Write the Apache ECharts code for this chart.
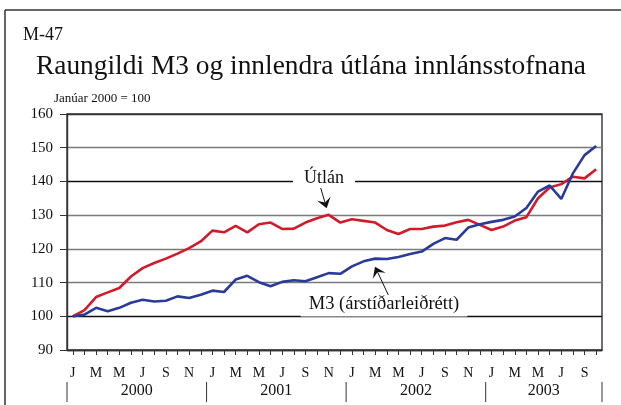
<!DOCTYPE html>
<html>
<head>
<meta charset="utf-8">
<script src="https://cdn.jsdelivr.net/npm/echarts@6/dist/echarts.min.js"></script>
<style>
html,body{margin:0;padding:0;background:#fff;}
#main{width:621px;height:405px;}
</style>
</head>
<body>
<div id="main"></div>
<script>
// Categories: monthly, Jan 2000 - Oct 2003
const months = [
  'J','F','M','A','M','J','J','A','S','O','N','D',
  'J','F','M','A','M','J','J','A','S','O','N','D',
  'J','F','M','A','M','J','J','A','S','O','N','D',
  'J','F','M','A','M','J','J','A','S','O'
];
const years = ['2000','2001','2002','2003'];
const yearStart = [0, 12, 24, 36];
const yTicks = [90, 100, 110, 120, 130, 140, 150, 160];

// Útlán (innlend útlán innlánsstofnana), index Jan 2000 = 100
const utlan = [
  100.0, 101.8, 105.7, 107.1, 108.4, 111.8, 114.3, 115.8, 117.1, 118.6, 120.2, 122.2,
  125.4, 124.9, 126.8, 124.9, 127.3, 127.8, 125.9, 126.0, 127.8, 129.1, 130.1, 127.8,
  128.8, 128.3, 127.8, 125.6, 124.4, 125.9, 125.9, 126.6, 126.9, 127.9, 128.6, 127.1,
  125.6, 126.6, 128.4, 129.4, 135.0, 138.2, 139.2, 141.4, 140.9, 143.6
];
// M3 (árstíðarleiðrétt)
const m3 = [
  100.0, 100.5, 102.5, 101.5, 102.5, 104.0, 104.9, 104.4, 104.6, 105.9, 105.4, 106.4,
  107.6, 107.2, 110.9, 112.0, 110.1, 108.9, 110.2, 110.7, 110.4, 111.6, 112.8, 112.6,
  114.8, 116.3, 117.1, 117.0, 117.6, 118.5, 119.2, 121.5, 123.2, 122.7, 126.3, 127.3,
  128.0, 128.6, 129.6, 132.1, 137.0, 138.8, 134.8, 142.4, 147.8, 150.5
];

const SERIF = '"Liberation Serif", "Times New Roman", serif';
const chart = echarts.init(document.getElementById('main'), null, {renderer: 'canvas'});

const gridLineColors = ['#333', '#111', '#7a7a7a', '#7a7a7a', '#7a7a7a', '#111', '#7a7a7a', '#333'];

chart.setOption({
  animation: false,
  backgroundColor: '#fff',
  grid: {
    left: 67, right: 19, top: 114, bottom: 55,
    show: true, borderColor: '#333', borderWidth: 1.4, backgroundColor: 'transparent'
  },
  xAxis: {
    type: 'category',
    data: months,
    boundaryGap: true,
    axisLine: {lineStyle: {color: '#333', width: 1.4}},
    axisTick: {show: true, alignWithLabel: true, interval: 0, length: 5, lineStyle: {color: '#333', width: 1}},
    axisLabel: {interval: 1, margin: 16, color: '#111', fontFamily: SERIF, fontSize: 14},
    splitLine: {show: false}
  },
  yAxis: {
    type: 'value',
    min: yTicks[0], max: yTicks[yTicks.length - 1], interval: 10,
    axisLine: {show: true, lineStyle: {color: '#333', width: 1.4}},
    axisTick: {show: true, length: 7, lineStyle: {color: '#333', width: 1}},
    axisLabel: {margin: 14, color: '#111', fontFamily: SERIF, fontSize: 15},
    splitLine: {show: true, lineStyle: {color: gridLineColors, width: 1.4}}
  },
  series: [
    {
      name: 'Útlán', type: 'line', data: utlan, showSymbol: false, symbol: 'none',
      lineStyle: {color: '#d11a2a', width: 2.6}, z: 3
    },
    {
      name: 'M3 (árstíðarleiðrétt)', type: 'line', data: m3, showSymbol: false, symbol: 'none',
      lineStyle: {color: '#2a3a9a', width: 2.6}, z: 4
    }
  ]
});

// Year labels and separators derived from axis scale
const x0 = chart.convertToPixel({xAxisIndex: 0}, 0);
const x1 = chart.convertToPixel({xAxisIndex: 0}, 1);
const bw = x1 - x0;
const bounds = yearStart.map(i => chart.convertToPixel({xAxisIndex: 0}, i) - bw / 2);
bounds.push(chart.convertToPixel({xAxisIndex: 0}, months.length - 1) + bw / 2);

const graphics = [];
// outer frame (top + left)
graphics.push({type: 'line', shape: {x1: 5, y1: 10, x2: 621, y2: 10}, style: {stroke: '#333', lineWidth: 1.5}, silent: true});
graphics.push({type: 'line', shape: {x1: 5, y1: 10, x2: 5, y2: 405}, style: {stroke: '#333', lineWidth: 1.5}, silent: true});
// titles
graphics.push({type: 'text', x: 23, y: 35, style: {text: 'M-47', font: '18px ' + SERIF, fill: '#111', verticalAlign: 'middle'}});
graphics.push({type: 'text', x: 36, y: 67, style: {text: 'Raungildi M3 og innlendra útlána innlánsstofnana', font: '27.4px ' + SERIF, fill: '#111', verticalAlign: 'middle'}});
graphics.push({type: 'text', x: 54, y: 99, style: {text: 'Janúar 2000 = 100', font: '13px ' + SERIF, fill: '#111', verticalAlign: 'middle'}});

bounds.forEach(b => {
  graphics.push({type: 'line', shape: {x1: b, y1: 382, x2: b, y2: 402}, style: {stroke: '#333', lineWidth: 1}, silent: true});
});
years.forEach((y, k) => {
  graphics.push({type: 'text', x: (bounds[k] + bounds[k + 1]) / 2, y: 391,
    style: {text: y, font: '16px ' + SERIF, fill: '#111', align: 'center', verticalAlign: 'middle'}});
});

// series annotations
graphics.push({type: 'text', x: 324, y: 178, z: 10,
  style: {text: 'Útlán', font: '18px ' + SERIF, fill: '#111', align: 'center', verticalAlign: 'middle',
    backgroundColor: '#fff', padding: [3, 11]}});
graphics.push({type: 'text', x: 384, y: 304, z: 10,
  style: {text: 'M3 (árstíðarleiðrétt)', font: '18.5px ' + SERIF, fill: '#111', align: 'center', verticalAlign: 'middle',
    backgroundColor: '#fff', padding: [3, 8]}});

// arrows
graphics.push({type: 'line', z: 10, shape: {x1: 320.7, y1: 188, x2: 325.0, y2: 202.6}, style: {stroke: '#111', lineWidth: 1}});
graphics.push({type: 'polygon', z: 10, shape: {points: [[326.7, 208.3], [330.5, 196.7], [325.0, 202.6], [317.1, 200.7]]}, style: {fill: '#111'}});
graphics.push({type: 'line', z: 10, shape: {x1: 388.3, y1: 295, x2: 377.6, y2: 272.1}, style: {stroke: '#111', lineWidth: 1}});
graphics.push({type: 'polygon', z: 10, shape: {points: [[375, 266.7], [385.6, 272.8], [377.6, 272.1], [372.9, 278.7]]}, style: {fill: '#111'}});

chart.setOption({graphic: graphics});
</script>
</body>
</html>
